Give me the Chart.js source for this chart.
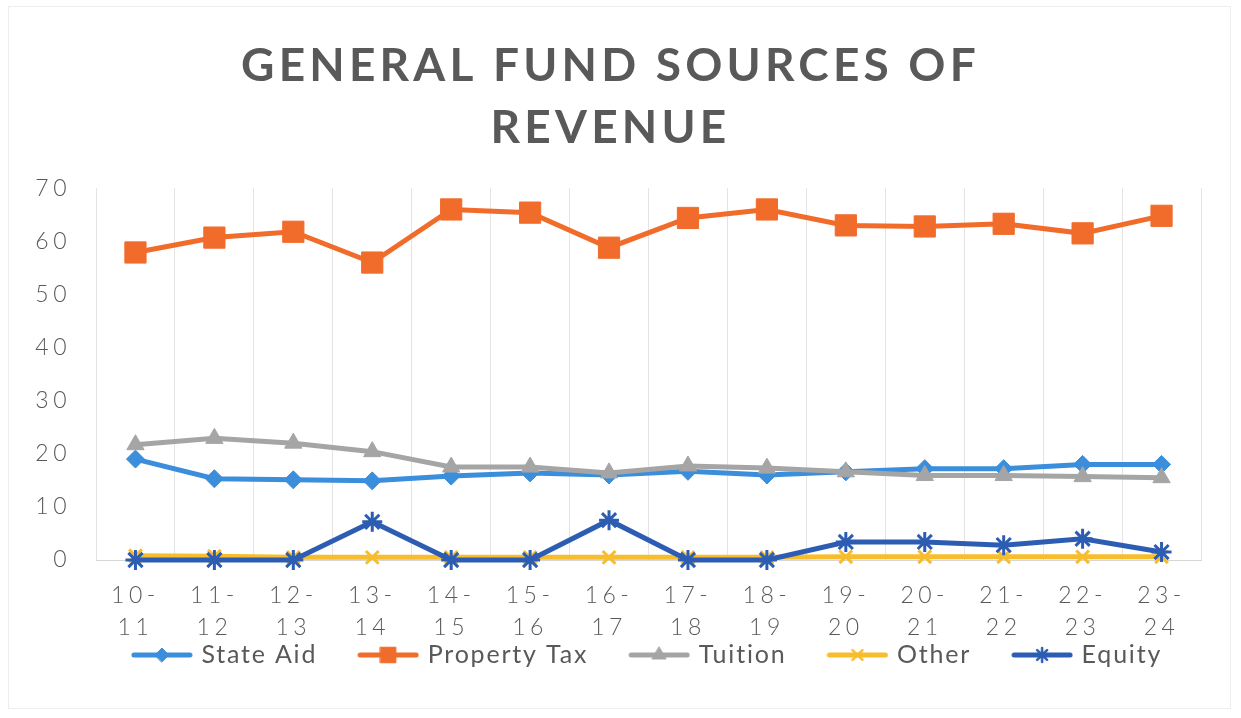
<!DOCTYPE html>
<html>
<head>
<meta charset="utf-8">
<title>General Fund Sources of Revenue</title>
<script src="https://cdn.jsdelivr.net/npm/chart.js@4/dist/chart.umd.min.js"></script>
<style>
  html, body { margin: 0; padding: 0; background: #ffffff; }
  #wrap { position: relative; width: 1241px; height: 718px; }
  canvas { display: block; }
</style>
</head>
<body>
<div id="wrap"><canvas id="chart" width="1241" height="718"></canvas></div>
<script>
// School years, split into the two tick lines ("10-" over "11")
const yearStart = ['10', '11', '12', '13', '14', '15', '16', '17', '18', '19', '20', '21', '22', '23'];
const yearEnd   = ['11', '12', '13', '14', '15', '16', '17', '18', '19', '20', '21', '22', '23', '24'];

// Share of general fund revenue by source (percent)
const stateAid    = [19.0, 15.3, 15.1, 14.9, 15.8, 16.4, 16.0, 16.7, 16.0, 16.6, 17.2, 17.2, 18.0, 18.0];
const propertyTax = [57.9, 60.7, 61.8, 56.0, 66.0, 65.4, 58.8, 64.4, 66.0, 63.0, 62.8, 63.3, 61.5, 64.8];
const tuition     = [21.7, 22.9, 22.0, 20.4, 17.5, 17.5, 16.4, 17.7, 17.3, 16.6, 15.9, 15.9, 15.7, 15.5];
const other       = [0.8, 0.7, 0.5, 0.5, 0.5, 0.5, 0.5, 0.5, 0.5, 0.6, 0.6, 0.6, 0.6, 0.6];
const equity      = [0, 0, 0, 7.2, 0, 0, 7.5, 0, 0, 3.4, 3.4, 2.8, 4.0, 1.5];

// Y axis range
const yMin = 0, yMax = 70, yStep = 10;

const labels = yearStart.map((s, i) => [s + '-', yearEnd[i]]);

const TEXT = '#595959';
const FONT = 'Lato, "Open Sans", sans-serif';

const series = [
  { label: 'State Aid',    data: stateAid,    color: '#3a8edc', style: 'rectRot',  radius: 9,  bw: 1, legendR: 7 },
  { label: 'Property Tax', data: propertyTax, color: '#f16c2b', style: 'rect',     radius: 15, bw: 1, legendR: 11 },
  { label: 'Tuition',      data: tuition,     color: '#a5a5a5', style: 'triangle', radius: 10, bw: 1, legendR: 8 },
  { label: 'Other',        data: other,       color: '#f8bd2c', style: 'crossRot', radius: 9,  bw: 3, legendR: 7 },
  { label: 'Equity',       data: equity,      color: '#2c5db3', style: 'star',     radius: 10, bw: 3, legendR: 7 }
];

const canvas = document.getElementById('chart');
const ctx = canvas.getContext('2d');

// Wide letter spacing, chosen by font size (title / ticks / legend)
const SPACING = { '46': '4.2px', '23': '4.5px', '25': '1.8px' };
function applySpacing(c) {
  if (!('letterSpacing' in c)) return;
  const m = /(\d+(?:\.\d+)?)px/.exec(c.font);
  c.letterSpacing = (m && SPACING[m[1]]) || '0px';
}
const protoFill = CanvasRenderingContext2D.prototype.fillText;
const protoMeasure = CanvasRenderingContext2D.prototype.measureText;
ctx.fillText = function (...a) { applySpacing(this); return protoFill.apply(this, a); };
ctx.measureText = function (...a) { applySpacing(this); return protoMeasure.apply(this, a); };

// Legend symbol: a short thick line with the series marker in the middle
function legendSymbol(s) {
  const w = 62, h = 24;
  const c = document.createElement('canvas');
  c.width = w; c.height = h;
  const g = c.getContext('2d');
  g.strokeStyle = s.color;
  g.fillStyle = s.color;
  g.lineWidth = 5;
  g.lineCap = 'round';
  g.beginPath();
  g.moveTo(3, h / 2);
  g.lineTo(w - 3, h / 2);
  g.stroke();
  g.lineWidth = s.bw === 1 ? 1 : 2.5;
  Chart.helpers.drawPoint(g, { pointStyle: s.style, radius: s.legendR, borderWidth: g.lineWidth, rotation: 0 }, w / 2, h / 2);
  return c;
}
const symbols = series.map(legendSymbol);

const frame = {
  id: 'frame',
  beforeDraw(chart) {
    const c = chart.ctx;
    c.save();
    c.strokeStyle = '#ededed';
    c.lineWidth = 1;
    c.strokeRect(8.5, 6.5, 1222, 702);
    c.restore();
  }
};

// Put the legend row just under the year labels, centred under the plot area
const LEGEND_ROW_Y = 655;
const legendUnderPlot = {
  id: 'legendUnderPlot',
  afterLayout(chart) {
    const lg = chart.legend, a = chart.chartArea;
    if (!lg) return;
    const shift = (a.left + a.right) / 2 - (lg.left + lg.right) / 2;
    lg.left += shift;
    lg.right += shift;
    const pad = lg.options.labels.padding;
    const half = lg.options.labels.font.size / 2;
    const top = LEGEND_ROW_Y - pad - half;
    lg.bottom = top + lg.height;
    lg.top = top;
  }
};

new Chart(ctx, {
  type: 'line',
  data: {
    labels: labels,
    datasets: series.map((s, i) => ({
      label: s.label,
      data: s.data,
      borderColor: s.color,
      backgroundColor: s.color,
      borderWidth: 5,
      tension: 0,
      pointStyle: s.style,
      pointRadius: s.radius,
      pointHoverRadius: s.radius,
      pointBorderWidth: s.bw,
      pointBackgroundColor: s.color,
      pointBorderColor: s.color,
      order: series.length - i,
      clip: false
    }))
  },
  options: {
    responsive: false,
    animation: false,
    events: [],
    layout: { padding: { left: 20, right: 40, top: 35, bottom: 0 } },
    plugins: {
      tooltip: { enabled: false },
      title: {
        display: true,
        text: ['GENERAL FUND SOURCES OF', 'REVENUE'],
        color: TEXT,
        font: { family: FONT, size: 46, weight: 'bold', lineHeight: 1.35 },
        padding: { top: 0, bottom: 29 }
      },
      legend: {
        display: true,
        position: 'bottom',
        fullSize: true,
        labels: {
          usePointStyle: true,
          pointStyleWidth: 54,
          padding: 44,
          color: TEXT,
          font: { family: FONT, size: 25 },
          generateLabels(chart) {
            return series.map((s, i) => ({
              text: s.label,
              pointStyle: symbols[i],
              fillStyle: s.color,
              strokeStyle: s.color,
              lineWidth: 0,
              hidden: false,
              datasetIndex: i,
              fontColor: TEXT
            }));
          }
        }
      }
    },
    scales: {
      x: {
        offset: true,
        grid: { display: true, offset: true, color: '#e4e4e4', lineWidth: 1, drawTicks: false },
        border: { display: true, color: '#d6d6d6', width: 1 },
        ticks: {
          color: TEXT,
          font: { family: FONT, size: 23, weight: 300, lineHeight: 1.39 },
          padding: 20,
          maxRotation: 0,
          autoSkip: false
        },
        afterFit(scale) { scale.height = 79; }
      },
      y: {
        min: yMin,
        max: yMax,
        grid: { display: false, drawTicks: false },
        border: { display: false },
        ticks: {
          stepSize: yStep,
          color: TEXT,
          font: { family: FONT, size: 23, weight: 300 },
          padding: 25
        },
        afterFit(scale) { scale.width = 76; }
      }
    }
  },
  plugins: [frame, legendUnderPlot]
});
</script>
</body>
</html>
